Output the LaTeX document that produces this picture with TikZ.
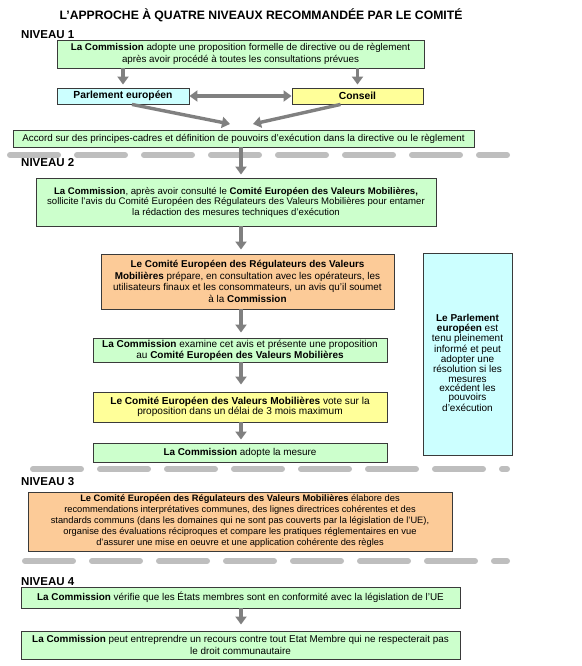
\documentclass[tikz,border=0pt]{standalone}
\usepackage{fontspec}
\setmainfont{Liberation Sans}
\usetikzlibrary{arrows.meta}
\definecolor{boxgreen}{HTML}{CCFFCC}
\definecolor{boxorange}{HTML}{FCCB98}
\definecolor{boxyellow}{HTML}{FFFF99}
\definecolor{boxcyan}{HTML}{CCFFFF}
\definecolor{rimgray}{HTML}{3A3A3A}
\definecolor{arrgray}{HTML}{808080}
\definecolor{sepgray}{HTML}{BEBEBE}
\begin{document}
\begin{tikzpicture}[x=1pt,y=-1pt,
  box/.style={draw=rimgray,line width=0.9pt,align=center,inner sep=1pt,
    font=\fontsize{9.9}{11.5}\selectfont},
  grn/.style={box,fill=boxgreen},
  org/.style={box,fill=boxorange},
  yel/.style={box,fill=boxyellow},
  cyn/.style={box,fill=boxcyan},
  arr/.style={draw=arrgray,line width=3.4pt,-{Triangle[width=11pt,length=8pt]}},
  sep/.style={draw=sepgray,line width=6pt,line cap=round,dash pattern=on 48pt off 19pt},
  lvl/.style={anchor=west,inner sep=0pt,font=\bfseries\fontsize{11.5}{13}\selectfont}]
\useasboundingbox (0,0) rectangle (581,666);
\coordinate (axis) at (241,0);

\node[inner sep=0pt,font=\bfseries\fontsize{12.2}{14}\selectfont] (title) at (261,15)
  {L'APPROCHE À QUATRE NIVEAUX RECOMMANDÉE PAR LE COMITÉ};

% niveau 1
\node[lvl] (niv1) at (21,35) {NIVEAU 1};
\node[grn,minimum width=367pt,minimum height=28pt,font=\fontsize{9.8}{12.3}\selectfont] (box1) at (240.5,54)
  {\textbf{La Commission} adopte une proposition formelle de directive ou de règlement\\
   après avoir procédé à toutes les consultations prévues};
\node[cyn,minimum width=132pt,minimum height=16pt,font=\bfseries\fontsize{10.3}{11}\selectfont] (parl) at (123,96) {Parlement européen};
\node[yel,minimum width=131pt,minimum height=16pt,font=\bfseries\fontsize{10.3}{11}\selectfont] (cons) at (357.5,96) {Conseil};
\node[grn,minimum width=461pt,minimum height=17pt,font=\fontsize{9.8}{11}\selectfont] (accord) at (243.5,138.5)
  {Accord sur des principes-cadres et définition de pouvoirs d'exécution dans la directive ou le règlement};
\coordinate (meetl) at (230,124);
\coordinate (meetr) at (253,124);
\draw[arr,shorten >=3pt] (box1.south -| parl.north) -- (parl.north);
\draw[arr,shorten >=3pt] (box1.south -| cons.north) -- (cons.north);
\draw[draw=arrgray,line width=3.4pt,{Triangle[width=11pt,length=8pt]}-{Triangle[width=11pt,length=8pt]}] (parl.east) -- (cons.west);
\draw[arr] ([xshift=9pt]parl.south) -- (meetl);
\draw[arr] ([xshift=-17pt]cons.south) -- (meetr);

\draw[sep] (10,155) -- (507,155);

% niveau 2
\node[lvl] (niv2) at (21,163) {NIVEAU 2};
\node[grn,minimum width=400pt,minimum height=48pt,font=\fontsize{9.6}{10.5}\selectfont] (box2) at (236,202)
  {\textbf{La Commission}, après avoir consulté le \textbf{Comité Européen des Valeurs Mobilières,}\\
   sollicite l'avis du Comité Européen des Régulateurs des Valeurs Mobilières pour entamer\\
   la rédaction des mesures techniques d'exécution};
\node[org,minimum width=293pt,minimum height=55pt] (box3) at (247.5,281.5)
  {\textbf{Le Comité Européen des Régulateurs des Valeurs}\\
   \textbf{Mobilières} prépare, en consultation avec les opérateurs, les\\
   utilisateurs finaux et les consommateurs, un avis qu'il soumet\\
   à la \textbf{Commission}};
\node[grn,minimum width=294pt,minimum height=24pt,font=\fontsize{10}{11}\selectfont] (box4) at (240,350)
  {\textbf{La Commission} examine cet avis et présente une proposition\\
   au \textbf{Comité Européen des Valeurs Mobilières}};
\node[yel,minimum width=294pt,minimum height=30pt,font=\fontsize{10.1}{10.5}\selectfont] (box5) at (240,407)
  {\textbf{Le Comité Européen des Valeurs Mobilières} vote sur la\\
   proposition dans un délai de 3 mois maximum};
\node[grn,minimum width=294pt,minimum height=19pt] (box6) at (240,452.5)
  {\textbf{La Commission} adopte la mesure};
\node[cyn,minimum width=89pt,minimum height=202pt] (pe) at (467.5,354) {};
\node[align=center,inner sep=0pt,font=\fontsize{10}{9.3}\selectfont] (petext) at (467.5,363)
  {\textbf{Le Parlement}\\ \textbf{européen} est\\ tenu pleinement\\ informé et peut\\ adopter une\\
   résolution si les\\ mesures\\ excédent les\\ pouvoirs\\ d'exécution};
\draw[arr,shorten >=3pt] (accord.south -| axis) -- (box2.north -| axis);
\draw[arr,shorten >=4pt] (box2.south -| axis) -- (box3.north -| axis);
\draw[arr,shorten >=5pt] (box3.south -| axis) -- (box4.north -| axis);
\draw[arr,shorten >=7pt] (box4.south -| axis) -- (box5.north -| axis);
\draw[arr,shorten >=3pt] (box5.south -| axis) -- (box6.north -| axis);

\draw[sep] (33,469) -- (507,469);

% niveau 3
\node[lvl] (niv3) at (21,482) {NIVEAU 3};
\node[org,minimum width=424pt,minimum height=59pt,font=\fontsize{9.3}{11}\selectfont] (box7) at (240,521.5)
  {\textbf{Le Comité Européen des Régulateurs des Valeurs Mobilières} élabore des\\
   recommendations interprétatives communes, des lignes directrices cohérentes et des\\
   standards communs (dans les domaines qui ne sont pas couverts par la législation de l'UE),\\
   organise des évaluations réciproques et compare les pratiques réglementaires en vue\\
   d'assurer une mise en oeuvre et une application cohérente des règles};

\draw[sep] (25,561) -- (507,561);

% niveau 4
\node[lvl] (niv4) at (21,582) {NIVEAU 4};
\node[grn,minimum width=439pt,minimum height=21pt] (box8) at (240.5,597.5)
  {\textbf{La Commission} vérifie que les États membres sont en conformité avec la législation de l'UE};
\node[grn,minimum width=439pt,minimum height=28pt,font=\fontsize{9.9}{12.5}\selectfont] (box9) at (240.5,645)
  {\textbf{La Commission} peut entreprendre un recours contre tout Etat Membre qui ne respecterait pas\\
   le droit communautaire};
\draw[arr,shorten >=6pt] (box8.south -| axis) -- (box9.north -| axis);
\end{tikzpicture}
\end{document}
